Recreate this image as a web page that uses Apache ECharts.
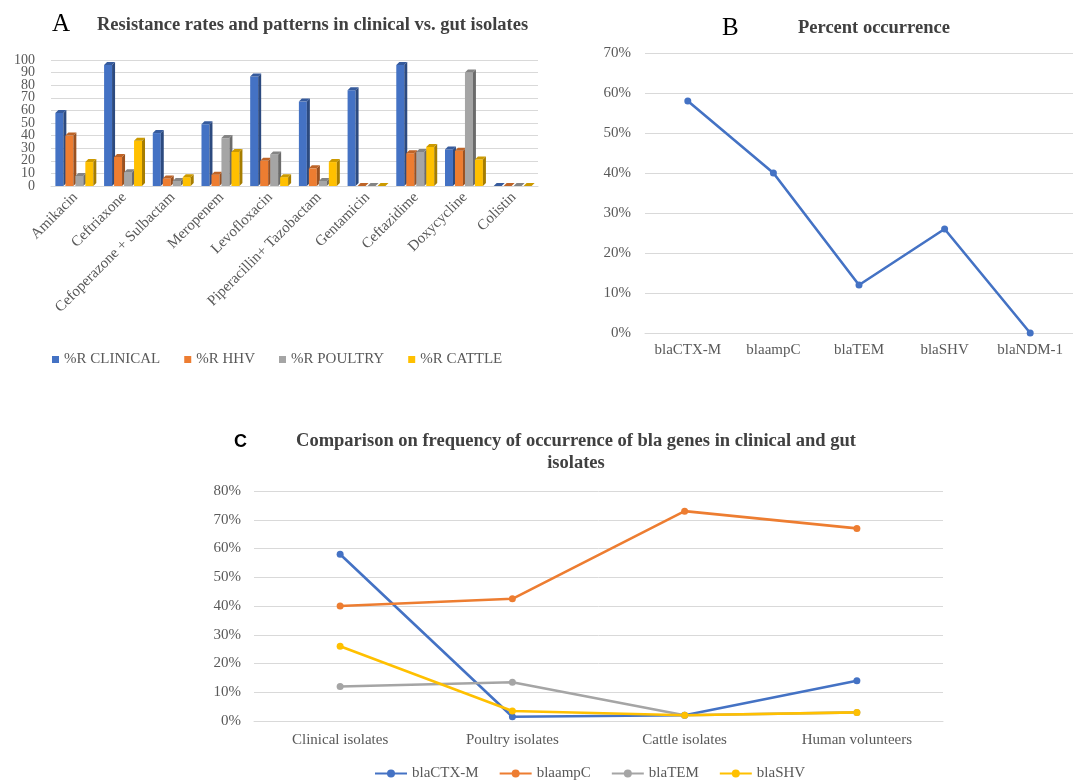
<!DOCTYPE html>
<html>
<head>
<meta charset="utf-8">
<script src="https://cdn.jsdelivr.net/npm/echarts@6/dist/echarts.min.js"></script>
<style>
  html, body { margin: 0; padding: 0; background: #ffffff; }
  #chart { width: 1073px; height: 781px; }
</style>
</head>
<body>
<div id="chart"></div>
<script>
// Panel A: resistance (%) per antibiotic and source
const antibiotics = ['Amikacin', 'Ceftriaxone', 'Cefoperazone + Sulbactam', 'Meropenem', 'Levofloxacin',
  'Piperacillin+ Tazobactam', 'Gentamicin', 'Ceftazidime', 'Doxycycline', 'Colistin'];
const resClinical = [58, 96, 42, 49, 87, 67, 76, 96, 29, 0];
const resHHV      = [40, 23, 6, 9, 20, 14, 0, 26, 28, 0];
const resPoultry  = [8, 11, 4, 38, 25, 4, 0, 27, 90, 0];
const resCattle   = [19, 36, 7, 27, 7, 19, 0, 31, 21, 0];
const resNames = ['%R CLINICAL', '%R HHV', '%R POULTRY', '%R CATTLE'];

// Panel B: percent occurrence of each bla gene
const genes = ['blaCTX-M', 'blaampC', 'blaTEM', 'blaSHV', 'blaNDM-1'];
const geneOccurrence = [58, 40, 12, 26, 0];

// Panel C: bla gene frequency by isolate source
const sources = ['Clinical isolates', 'Poultry isolates', 'Cattle isolates', 'Human volunteers'];
const ctxm = [58, 1.5, 2, 14];
const ampc = [40, 42.5, 73, 67];
const tem  = [12, 13.5, 2, 3];
const shv  = [26, 3.5, 2, 3];

const colors = ['#4472C4', '#ED7D31', '#A5A5A5', '#FFC000'];
const serif = '"Liberation Serif", "DejaVu Serif", serif';
const sans = '"Liberation Sans", Arial, sans-serif';
const axisGrey = '#595959';
const gridGrey = '#D9D9D9';
const titleGrey = '#404040';

function shade(hex, f) {
  const n = parseInt(hex.slice(1), 16);
  let r = (n >> 16) & 255, g = (n >> 8) & 255, b = n & 255;
  if (f < 0) { r *= 1 + f; g *= 1 + f; b *= 1 + f; }
  else { r += (255 - r) * f; g += (255 - g) * f; b += (255 - b) * f; }
  return 'rgb(' + Math.round(r) + ',' + Math.round(g) + ',' + Math.round(b) + ')';
}

// 3D-looking clustered column: front face, right side and top face
function bar3d(seriesIdx, nSeries) {
  return function (params, api) {
    const cat = api.value(0);
    const val = api.value(1);
    const top = api.coord([cat, val]);
    const base = api.coord([cat, 0]);
    const band = api.size([1, 0])[0];
    const group = band * 0.82;
    const w = group / nSeries;
    const x0 = top[0] - group / 2 + seriesIdx * w;
    const fw = w - 2;
    const d = 3;
    const c = colors[seriesIdx];
    const y = top[1], yb = base[1];
    return {
      type: 'group',
      children: [
        { type: 'rect', shape: { x: x0, y: y, width: fw, height: Math.max(yb - y, 0) },
          style: { fill: c } },
        { type: 'polygon', shape: { points: [[x0 + fw, y], [x0 + fw + d, y - d], [x0 + fw + d, yb - d], [x0 + fw, yb]] },
          style: { fill: shade(c, -0.35) } },
        { type: 'polygon', shape: { points: [[x0, y], [x0 + d, y - d], [x0 + fw + d, y - d], [x0 + fw, y]] },
          style: { fill: shade(c, -0.2) } }
      ]
    };
  };
}

const resSeriesData = [resClinical, resHHV, resPoultry, resCattle];
const barSeries = resSeriesData.map((arr, i) => ({
  name: resNames[i],
  type: 'custom',
  xAxisIndex: 0,
  yAxisIndex: 0,
  itemStyle: { color: colors[i] },
  encode: { x: 0, y: 1 },
  renderItem: bar3d(i, 4),
  data: arr.map((v, j) => [j, v])
}));

function lineSeries(name, data, color, xi) {
  return {
    name: name, type: 'line', xAxisIndex: xi, yAxisIndex: xi,
    data: data, symbol: 'circle', symbolSize: 7,
    lineStyle: { color: color, width: 2.6 },
    itemStyle: { color: color }
  };
}

// the 0-100 scale of panel A is densely labelled, so its even and odd
// tick labels sit on two overlaid axes sharing the same scale
const aLabel = { fontFamily: serif, fontSize: 14, color: axisGrey, margin: 16 };

const chart = echarts.init(document.getElementById('chart'), null, { renderer: 'canvas' });
chart.setOption({
  backgroundColor: '#ffffff',
  animation: false,
  textStyle: { fontFamily: serif },
  title: [
    { text: 'A', left: 47, top: 7, textStyle: { fontFamily: serif, fontSize: 25, fontWeight: 'normal', color: '#000' } },
    { text: 'Resistance rates and patterns in clinical vs. gut isolates', left: 92, top: 11,
      textStyle: { fontFamily: serif, fontSize: 18.5, fontWeight: 'bold', color: titleGrey } },
    { text: 'B', left: 717, top: 11, textStyle: { fontFamily: serif, fontSize: 25, fontWeight: 'normal', color: '#000' } },
    { text: 'Percent occurrence', left: 793, top: 14,
      textStyle: { fontFamily: serif, fontSize: 18.5, fontWeight: 'bold', color: titleGrey } },
    { text: 'C', left: 229, top: 428, textStyle: { fontFamily: sans, fontSize: 18, fontWeight: 'bold', color: '#000' } },
    { text: 'Comparison on frequency of occurrence of bla genes in clinical and gut\nisolates', left: 571, top: 425,
      textAlign: 'center',
      textStyle: { fontFamily: serif, fontSize: 18.5, fontWeight: 'bold', color: titleGrey, lineHeight: 22, align: 'center' } }
  ],
  legend: [
    { data: resNames, left: 47, top: 347, itemWidth: 7, itemHeight: 7, itemGap: 24, icon: 'rect',
      textStyle: { fontFamily: serif, fontSize: 15, color: axisGrey } },
    { data: ['blaCTX-M', 'blaampC', 'blaTEM', 'blaSHV'], left: 369, top: 761, itemWidth: 32, itemHeight: 10, itemGap: 20,
      textStyle: { fontFamily: serif, fontSize: 15, color: axisGrey } }
  ],
  grid: [
    { left: 51, right: 535, top: 60, bottom: 595 },
    { left: 645, width: 435, top: 53, height: 280 },
    { left: 254, right: 130, top: 491, bottom: 60 }
  ],
  xAxis: [
    { type: 'category', gridIndex: 0, data: antibiotics,
      axisLine: { show: true, lineStyle: { color: gridGrey } }, axisTick: { show: false },
      axisLabel: { rotate: 45, interval: 0, margin: 9, fontFamily: serif, fontSize: 15, color: axisGrey } },
    { type: 'category', gridIndex: 1, data: genes,
      axisLine: { show: true, lineStyle: { color: gridGrey } }, axisTick: { show: false },
      axisLabel: { interval: 0, margin: 10, fontFamily: serif, fontSize: 15, color: axisGrey } },
    { type: 'category', gridIndex: 2, data: sources,
      axisLine: { show: true, lineStyle: { color: gridGrey } }, axisTick: { show: false },
      axisLabel: { interval: 0, margin: 12, fontFamily: serif, fontSize: 15, color: axisGrey } }
  ],
  yAxis: [
    { type: 'value', gridIndex: 0, min: 0, max: 100, interval: 20,
      axisLine: { show: false }, axisTick: { show: false }, splitLine: { show: false },
      axisLabel: Object.assign({ showMinLabel: true, showMaxLabel: true }, aLabel) },
    { type: 'value', gridIndex: 1, min: 0, max: 70, interval: 10,
      axisLine: { show: false }, axisTick: { show: false },
      splitLine: { lineStyle: { color: gridGrey } },
      axisLabel: { margin: 14, showMinLabel: true, showMaxLabel: true,
        formatter: '{value}%', fontFamily: serif, fontSize: 15, color: axisGrey } },
    { type: 'value', gridIndex: 2, min: 0, max: 80, interval: 10,
      axisLine: { show: false }, axisTick: { show: false },
      splitLine: { lineStyle: { color: gridGrey } },
      axisLabel: { margin: 13, showMinLabel: true, showMaxLabel: true,
        formatter: '{value}%', fontFamily: serif, fontSize: 15, color: axisGrey } },
    { type: 'value', gridIndex: 0, position: 'left', min: 0, max: 100, interval: 10,
      axisLine: { show: false }, axisTick: { show: false },
      splitLine: { lineStyle: { color: gridGrey } },
      axisLabel: Object.assign({ showMinLabel: false, showMaxLabel: false,
        formatter: v => (v % 20 === 10 ? String(v) : '') }, aLabel) }
  ],
  series: barSeries.concat([
    lineSeries('Percent occurrence', geneOccurrence, colors[0], 1),
    lineSeries('blaCTX-M', ctxm, colors[0], 2),
    lineSeries('blaampC', ampc, colors[1], 2),
    lineSeries('blaTEM', tem, colors[2], 2),
    lineSeries('blaSHV', shv, colors[3], 2)
  ])
});
</script>
</body>
</html>
